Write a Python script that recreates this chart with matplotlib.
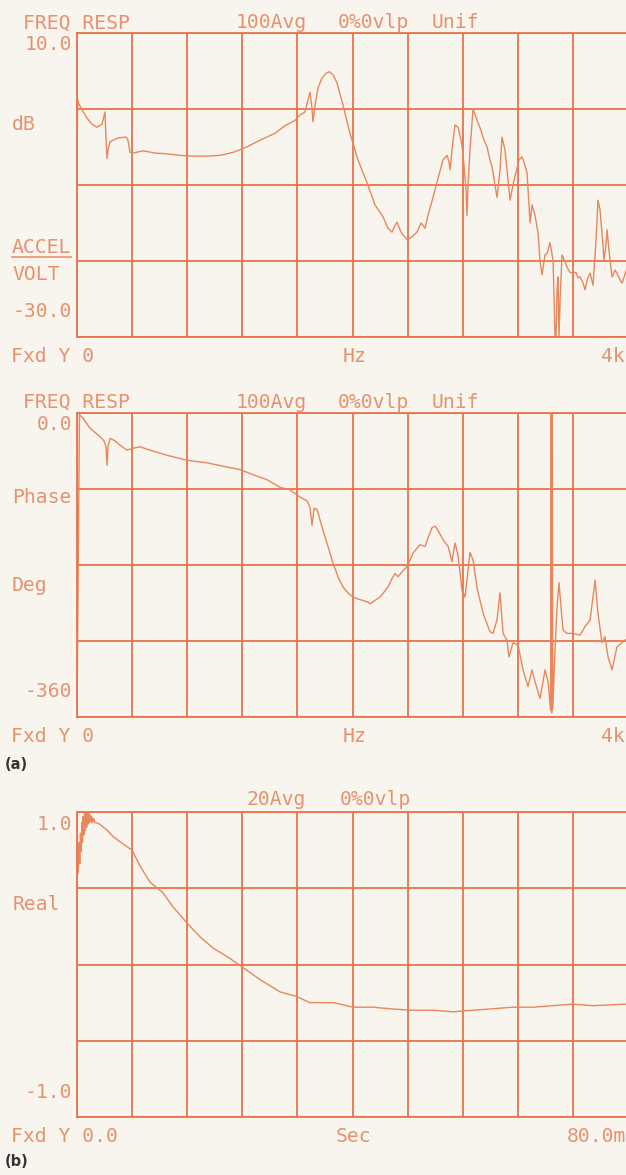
import numpy as np
import matplotlib.pyplot as plt
from matplotlib.lines import Line2D

# ── Data ─────────────────────────────────────────────────────────────────────
# (a) top: frequency response magnitude, dB (ACCEL/VOLT) vs Hz
mag_freq = [0, 5, 7, 36, 73, 109, 145, 182, 203, 211, 218, 225, 240, 298, 356, 370,
            385, 407, 479, 566, 653, 748, 842, 944, 1038, 1133, 1220, 1329, 1437,
            1510, 1583, 1619, 1655, 1677, 1692, 1706, 1713, 1728, 1750, 1779, 1808,
            1830, 1859, 1888, 1931, 1982, 2040, 2105, 2163, 2222, 2258, 2287, 2309,
            2323, 2352, 2396, 2432, 2468, 2498, 2527, 2548, 2585, 2621, 2657, 2686,
            2701, 2708, 2722, 2744, 2766, 2788, 2802, 2824, 2831, 2839, 2853, 2875,
            2897, 2926, 2955, 2977, 2998, 3013, 3035, 3049, 3071, 3085, 3107, 3129,
            3144, 3165, 3187, 3209, 3231, 3252, 3267, 3289, 3303, 3325, 3347, 3361,
            3376, 3398, 3412, 3434, 3456, 3470, 3477, 3485, 3492, 3499, 3507, 3521,
            3543, 3557, 3579, 3601, 3623, 3637, 3652, 3674, 3688, 3703, 3725, 3746,
            3768, 3782, 3797, 3811, 3826, 3840, 3848, 3862, 3884, 3906, 3920, 3942,
            3957, 3978, 4000]
mag_db = [-7.0, 1.2, 0.9, -0.1, -1.2, -2.0, -2.4, -2.0, -0.4, -4.1, -6.5, -5.4, -4.3,
          -3.8, -3.7, -4.1, -5.7, -5.8, -5.5, -5.8, -5.9, -6.1, -6.2, -6.2, -6.1,
          -5.7, -5.1, -4.1, -3.2, -2.2, -1.5, -0.8, -0.4, 1.2, 2.2, 0.1, -1.7, 0.5,
          2.8, 4.1, 4.7, 4.9, 4.5, 3.4, 0.5, -3.2, -6.7, -9.7, -12.6, -14.2, -15.7,
          -16.2, -15.3, -14.9, -16.2, -17.2, -16.8, -16.2, -15.0, -15.7, -14.0,
          -11.6, -9.1, -6.7, -6.1, -7.0, -8.0, -5.4, -2.1, -2.4, -4.1, -5.8, -10.7,
          -14.0, -10.0, -5.4, 0.0, -1.1, -2.5, -4.1, -5.0, -6.7, -7.6, -10.0, -11.6,
          -8.0, -3.7, -5.4, -9.3, -12.0, -10.0, -8.3, -6.7, -6.3, -7.4, -8.4, -15.0,
          -12.6, -14.0, -16.3, -19.9, -21.8, -19.2, -19.0, -17.6, -19.9, -30.0,
          -30.0, -23.8, -22.1, -30.0, -25.1, -19.2, -20.1, -20.8, -21.5, -21.6,
          -21.5, -22.2, -22.1, -22.9, -23.8, -22.5, -21.6, -23.2, -17.2, -12.0,
          -13.3, -16.3, -19.9, -17.9, -15.9, -18.6, -22.1, -21.2, -21.6, -22.5,
          -22.9, -21.8, -20.5]

# (a) bottom: phase, degrees vs Hz
phase_freq = [0, 18, 44, 94, 167, 196, 211, 218, 225, 240, 276, 312, 363, 399, 457,
              530, 653, 799, 944, 1089, 1183, 1278, 1379, 1474, 1546, 1597, 1634,
              1670, 1692, 1706, 1721, 1742, 1786, 1822, 1859, 1895, 1931, 1967, 2004,
              2055, 2113, 2127, 2163, 2200, 2258, 2287, 2309, 2330, 2360, 2396, 2439,
              2490, 2527, 2548, 2577, 2599, 2614, 2657, 2694, 2722, 2744, 2766, 2795,
              2817, 2853, 2875, 2904, 2948, 2977, 2998, 3020, 3049, 3071, 3093, 3122,
              3136, 3165, 3202, 3238, 3274, 3303, 3325, 3361, 3398, 3420, 3438, 3442,
              3446, 3450, 3454, 3470, 3485, 3499, 3528, 3557, 3601, 3652, 3688, 3725,
              3761, 3782, 3811, 3833, 3855, 3884, 3920, 3957, 4000]
phase_deg = [-358, -2, -6, -18, -28, -33, -40, -62, -40, -30, -33, -38, -44, -42, -40,
             -44, -50, -56, -59, -64, -67, -73, -79, -88, -91, -97, -101, -104, -112,
             -133, -113, -114, -139, -158, -178, -194, -206, -213, -218, -221, -224,
             -226, -222, -218, -206, -196, -190, -194, -188, -182, -166, -156, -158,
             -148, -136, -134, -137, -150, -158, -176, -154, -168, -210, -218, -165,
             -174, -207, -237, -250, -259, -261, -245, -213, -261, -269, -289, -272,
             -275, -304, -324, -304, -318, -338, -304, -318, -352, 0, -355, 0, -350,
             -280, -230, -201, -257, -261, -261, -263, -253, -245, -198, -237, -272,
             -265, -289, -304, -277, -272, -266]

# (b): impulse response, real part vs time (ms)
imp_time = [0.00, 0.10, 0.20, 0.30, 0.40, 0.50, 0.60, 0.70, 0.80, 0.90, 1.00, 1.10,
            1.20, 1.30, 1.40, 1.50, 1.60, 1.70, 1.80, 1.90, 2.00, 2.10, 2.20, 2.30,
            2.40, 2.50, 2.60, 2.80, 3.30, 4.4, 5.2, 6.7, 8.0, 9.1, 10.6, 12.5, 13.9,
            16.0, 17.9, 19.7, 22.2, 24.1, 26.6, 29.5, 31.9, 33.8, 37.2, 40.1, 43.0,
            45.4, 48.4, 51.7, 54.6, 57.5, 60.4, 63.3, 66.2, 69.1, 72.0, 74.9, 79.7,
            80.0]
imp_real = [0.55, 0.72, 0.60, 0.80, 0.66, 0.86, 0.74, 0.93, 0.80, 0.97, 0.85, 1.00,
            0.88, 0.99, 0.90, 1.00, 0.92, 0.99, 0.93, 0.98, 0.94, 0.97, 0.93, 0.96,
            0.94, 0.95, 0.93, 0.93, 0.92, 0.88, 0.84, 0.79, 0.75, 0.65, 0.54, 0.47,
            0.38, 0.27, 0.18, 0.11, 0.04, -0.02, -0.10, -0.18, -0.21, -0.25, -0.25,
            -0.28, -0.28, -0.29, -0.30, -0.30, -0.31, -0.30, -0.29, -0.28, -0.28,
            -0.27, -0.26, -0.27, -0.26, -0.26]

# ── Style ────────────────────────────────────────────────────────────────────
BG    = "#F7F5EE"
GRID  = "#EA724C"
CURVE = "#E9875C"
TXT   = "#E8916F"
MONO  = "DejaVu Sans Mono"
FS    = 14.2

W, H = 626, 1175
fig = plt.figure(figsize=(W / 100, H / 100), dpi=100, facecolor=BG)


def rect(l, t, r, b):
    return [l / W, 1 - b / H, (r - l) / W, (b - t) / H]


def label(x, y, s, ha="left", **kw):
    opts = dict(color=TXT, family=MONO, fontsize=FS, ha=ha, va="baseline")
    opts.update(kw)
    fig.text(x / W, 1 - y / H, s, **opts)


def panel(top, bottom, x, y, xmax, ylo, yhi, lw=1.0):
    ax = fig.add_axes(rect(77, top, 628, bottom))
    ax.set_facecolor(BG)
    ax.plot(x, y, color=CURVE, lw=lw, solid_joinstyle="round")
    ax.set_xlim(0, xmax)
    ax.set_ylim(ylo, yhi)
    ax.set_xticks(np.linspace(0, xmax, 11))
    ax.set_yticks(np.linspace(ylo, yhi, 5))
    ax.set_axisbelow(True)
    ax.grid(True, color=GRID, lw=1.3)
    ax.tick_params(length=0, labelbottom=False, labelleft=False)
    for sp in ax.spines.values():
        sp.set_color(GRID)
        sp.set_linewidth(1.3)
    return ax


# ── (a) magnitude ────────────────────────────────────────────────────────────
panel(33, 337, mag_freq, mag_db, 4000, -30, 10)
label(23, 28.5, "FREQ RESP")
label(236, 28.5, "100Avg")
label(338, 28.5, "0%0vlp")
label(432, 28.5, "Unif")
label(72, 50, "10.0", ha="right")
label(12, 130, "dB")
label(12, 253, "ACCEL")
fig.add_artist(Line2D([12 / W, 71 / W], [1 - 257 / H, 1 - 257 / H], color=TXT, lw=1.2))
label(12, 280, "VOLT")
label(72, 317, "-30.0", ha="right")
label(11, 362, "Fxd Y 0")
label(354, 362, "Hz", ha="center")
label(625, 362, "4k", ha="right")

# ── (a) phase ────────────────────────────────────────────────────────────────
panel(413, 717, phase_freq, phase_deg, 4000, -360, 0)
label(23, 408, "FREQ RESP")
label(236, 408, "100Avg")
label(338, 408, "0%0vlp")
label(432, 408, "Unif")
label(72, 430, "0.0", ha="right")
label(72, 503, "Phase", ha="right")
label(12, 591, "Deg")
label(72, 697, "-360", ha="right")
label(11, 742, "Fxd Y 0")
label(354, 742, "Hz", ha="center")
label(625, 742, "4k", ha="right")
label(5, 769, "(a)", color="#333333", family="DejaVu Sans", fontsize=10.5,
      fontweight="bold")

# ── (b) impulse response ─────────────────────────────────────────────────────
panel(812, 1117, imp_time, imp_real, 80, -1, 1)
label(247, 805, "20Avg")
label(340, 805, "0%0vlp")
label(72, 830, "1.0", ha="right")
label(13, 910, "Real")
label(72, 1098, "-1.0", ha="right")
label(11, 1142, "Fxd Y 0.0")
label(353, 1142, "Sec", ha="center")
label(626, 1142, "80.0m", ha="right")
label(5, 1166, "(b)", color="#333333", family="DejaVu Sans", fontsize=10.5,
      fontweight="bold")

fig.savefig("out.png", dpi=100, facecolor=BG)
